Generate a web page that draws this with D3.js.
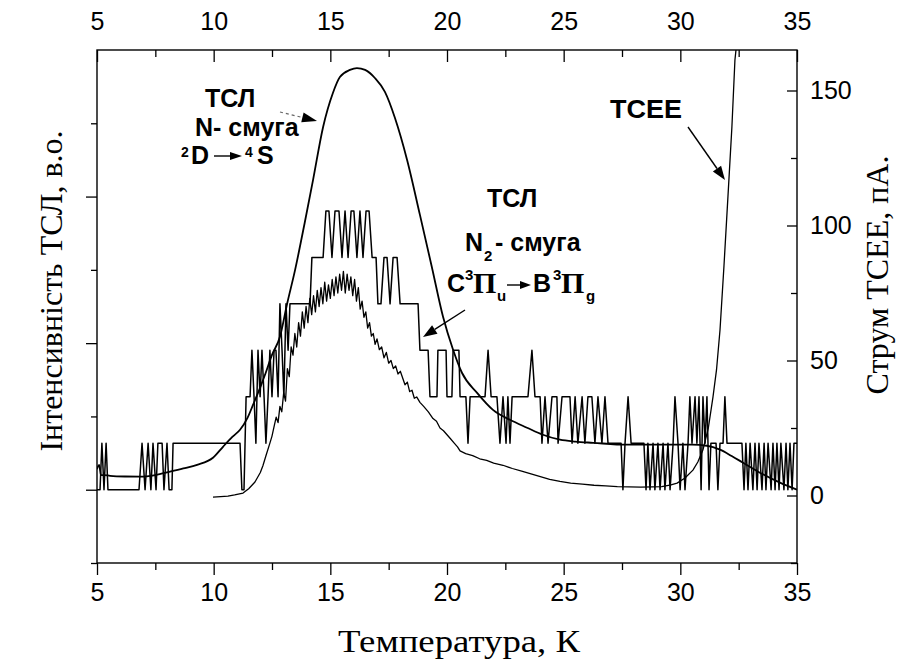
<!DOCTYPE html>
<html>
<head>
<meta charset="utf-8">
<script src="https://cdn.jsdelivr.net/npm/d3@7"></script>
<style>
  body { margin: 0; background: #fff; }
</style>
</head>
<body>
<div id="chart"></div>
<script>
// axis ticks
const xTicks = [5, 10, 15, 20, 25, 30, 35];
const xMinor = [7.5, 12.5, 17.5, 22.5, 27.5, 32.5];
const leftMajor = [0, 1, 2];
const leftMinor = [-0.5, 0.5, 1.5, 2.5];
const rightTicks = [0, 50, 100, 150];
const rightMinor = [-25, 25, 75, 125];

// ТСЛ, N-смуга: [T (K), intensity a.u.]
const nBand = [
  [5.00,0.14],[5.09,0.17],[5.17,0.10],[5.30,0.10],[5.56,0.095],[6.20,0.09],[6.84,0.089],
  [7.50,0.10],[8.13,0.123],[8.70,0.145],[9.29,0.170],[9.97,0.218],[10.40,0.293],[10.80,0.36],
  [11.13,0.409],[11.45,0.49],[11.69,0.580],[12.00,0.70],[12.20,0.784],[12.50,0.92],[12.84,1.043],
  [13.15,1.27],[13.49,1.500],[13.90,1.82],[14.26,2.114],[14.69,2.475],[15.11,2.707],[15.41,2.816],
  [15.84,2.864],[16.14,2.877],[16.49,2.864],[16.91,2.809],[17.34,2.714],[17.77,2.536],[18.29,2.250],
  [18.84,1.875],[19.35,1.52],[19.83,1.180],[20.25,0.96],[20.64,0.798],[21.29,0.661],[21.97,0.545],
  [22.70,0.477],[23.43,0.423],[24.11,0.375],[24.84,0.341],[25.50,0.328],[26.26,0.320],[27.71,0.307],
  [29.13,0.307],[30.50,0.307],[31.14,0.300],[31.70,0.273],[32.20,0.23],[32.69,0.184],[33.41,0.116],
  [34.27,0.048],[35.00,0.0]
];

// ТСЛ, N2-смуга: counter readings [T (K), level]
const n2Band = [
  [5.00,0],[5.13,0],[5.21,1],[5.30,0],[5.39,1],[5.47,0],
  [6.80,0],[6.93,1],[7.06,0],[7.19,1],[7.31,0],[7.40,1],[7.53,0],[7.61,1],[7.79,1],[7.87,0],[8.00,1],[8.09,0],[8.21,0],[8.26,1],
  [11.13,1],[11.21,0],[11.30,0],[11.39,2],
  [11.56,2],[11.64,3],[11.73,2],[11.81,1],[11.90,3],[11.99,2],[12.07,3],[12.16,2],[12.24,1],[12.33,2],[12.41,3],[12.50,2],
  [12.59,3],[12.67,3],[12.76,2],[12.84,4],[12.93,3],[13.01,2],[13.10,4],[13.19,3],[13.27,4],
  [13.40,4],[14.13,4],[14.21,5],[14.69,5],[14.81,6],[14.94,6],[15.07,5],[15.20,6],[15.37,6],[15.50,5],[15.63,6],[15.76,5],
  [15.89,6],[16.01,6],[16.14,5],[16.27,6],[16.40,5],[16.53,6],[16.66,6],[16.79,5],[16.96,5],[17.04,4],[17.17,4],[17.30,5],
  [17.43,5],[17.56,4],[17.69,5],[17.86,5],[17.99,4],
  [18.76,4],[18.84,3],[19.19,3],[19.27,2],[19.57,2],[19.61,3],[19.96,3],[20.00,2],[20.21,2],[20.26,3],[20.51,3],[20.56,2],
  [20.81,2],[20.90,1],[20.99,2],[21.63,2],[21.76,3],[21.89,2],[22.14,2],[22.27,1],[22.40,2],[22.53,1],[22.61,2],[22.70,1],[22.79,2],
  [23.47,2],[23.64,3],[23.77,2],[23.99,2],[24.07,1],[24.20,2],[24.33,1],[24.50,2],[24.71,2],[24.76,1],[24.93,2],[25.27,2],
  [25.36,1],[25.49,2],[25.61,1],[25.79,2],[25.91,1],[26.04,2],[26.21,2],[26.34,1],[26.47,2],[26.64,1],[26.77,2],[26.90,1],
  [27.46,1],[27.54,0],[27.63,1],[27.76,2],[27.89,1],
  [28.44,1],[28.53,0],[28.61,1],[28.70,0],[28.83,1],[28.91,0],[29.04,1],[29.13,0],[29.26,1],[29.34,0],[29.47,1],[29.56,0],
  [29.69,1],[29.77,2],[29.90,1],[29.99,0],[30.11,1],[30.20,0],[30.33,1],[30.41,2],[30.50,1],[30.63,2],[30.71,1],[30.80,2],
  [30.89,0],[30.97,2],[31.06,1],[31.14,2],[31.23,0],[31.31,1],
  [31.53,1],[31.61,0],[31.70,1],[31.83,1],[31.91,2],[32.00,1],
  [32.64,1],[32.73,0],[32.81,1],[32.90,0],[32.99,1],[33.11,0],[33.20,1],[33.29,0],[33.37,1],[33.50,0],[33.59,1],[33.67,0],
  [33.76,1],[33.89,0],[33.97,1],[34.06,0],[34.14,1],[34.23,0],[34.31,1],[34.44,0],[34.53,1],[34.61,0],[34.70,1],[34.79,0],
  [34.87,1],[35.00,1]
];
const n2LevelStep = 0.317; // intensity per counter level

// ТСЕЕ current: [T (K), pA]
const tsee = [
  [9.97,-0.6],[10.30,-0.4],[10.61,-0.2],[10.90,0.2],[11.26,0.9],[11.50,2.5],[11.77,5.0],[12.00,8.5],[12.11,11.0],
  [12.25,15.0],[12.41,19.4],[12.50,22.0],
  [12.60,26],[12.68,29],[12.76,27],[12.84,33],[12.92,31],[13.00,38],[13.08,35],[13.16,47],[13.24,44],[13.32,55],
  [13.40,52],[13.48,60],[13.56,55],[13.64,64],[13.72,59],[13.80,68],[13.88,62],[13.96,70],[14.04,64],[14.12,73],
  [14.20,67],[14.28,74],[14.36,68],[14.44,76],[14.52,70],[14.60,77],[14.68,71],[14.76,79],[14.84,72],[14.92,78],
  [15.00,73],[15.08,80],[15.16,74],[15.24,81],[15.32,75],[15.40,82],[15.48,76],[15.56,83],[15.64,75],[15.72,82],
  [15.80,76],[15.88,81],[15.96,74],[16.04,80],[16.12,72],[16.20,77],[16.28,69],[16.36,72],[16.44,66],[16.52,68],
  [16.60,62],[16.68,64],[16.76,59],[16.84,60],[16.92,56],[17.00,58],[17.10,54],[17.20,55],[17.30,51],[17.40,53],
  [17.50,49],[17.60,50],[17.70,47],[17.80,48],[17.90,45],[18.00,46],
  [18.2,41],[18.3,42],[18.4,38.5],[18.5,39],[18.6,36],[18.7,36.5],[18.84,34.5],[19.0,33],[19.1,32],[19.2,31],
  [19.4,28.5],[19.55,27.5],[19.7,25],[19.85,24],[20.0,22.5],[20.15,21],[20.3,19.5],[20.45,18],[20.56,16.5],
  [20.8,15.5],[21.1,14.8],[21.4,13.6],[21.7,13.0],[22.0,12.0],[22.4,11.2],[22.8,10.0],[23.2,9.0],[23.6,8.0],
  [24.0,7.0],[24.4,6.0],[24.84,5.2],[25.3,4.6],[25.8,4.2],[26.3,3.8],[26.8,3.6],[27.3,3.3],[27.8,3.2],[28.3,3.1],
  [28.8,3.2],[29.2,3.3],[29.6,3.9],[29.86,4.6],[30.2,6.5],[30.54,9.4],[30.75,12.4],[30.97,16.9],[31.2,25],
  [31.4,36.5],[31.55,46.5],[31.7,61.3],[31.87,85],[32.04,110.6],[32.21,136.5],[32.34,161.3],[32.47,172]
];

const svgWidth = 905, svgHeight = 666;
const margin = {top: 50, right: 108, bottom: 103, left: 97};
const width = svgWidth - margin.left - margin.right;
const height = svgHeight - margin.top - margin.bottom;

const svg = d3.select('#chart')
  .append('svg')
  .attr('width', svgWidth)
  .attr('height', svgHeight);

const g = svg.append('g')
  .attr('transform', `translate(${margin.left},${margin.top})`);

const x = d3.scaleLinear().domain([5, 35]).range([0, width]);
const yL = d3.scaleLinear().domain([-0.5, 3]).range([height, 0]);
const yR = d3.scaleLinear().domain([-25, 165]).range([height, 0]);

const tickFont = 'Liberation Sans, Arial, sans-serif';

function styleAxis(sel) {
  sel.select('.domain').remove();
  sel.attr('font-size', 25).attr('font-family', tickFont);
  sel.selectAll('line').attr('stroke', '#000').attr('stroke-width', 1.3);
  sel.selectAll('text').attr('fill', '#000');
}

// bottom
g.append('g').attr('transform', `translate(0,${height})`)
  .call(d3.axisBottom(x).tickValues(xTicks).tickSize(12).tickPadding(8)).call(styleAxis);
g.append('g').attr('transform', `translate(0,${height})`)
  .call(d3.axisBottom(x).tickValues(xMinor).tickSize(7).tickFormat('')).call(styleAxis);
// top
g.append('g')
  .call(d3.axisTop(x).tickValues(xTicks).tickSizeInner(-12).tickSizeOuter(0).tickPadding(20)).call(styleAxis);
g.append('g')
  .call(d3.axisTop(x).tickValues(xMinor).tickSizeInner(-7).tickSizeOuter(0).tickFormat('')).call(styleAxis);
// left
g.append('g')
  .call(d3.axisLeft(yL).tickValues(leftMajor).tickSize(11).tickFormat('')).call(styleAxis);
g.append('g')
  .call(d3.axisLeft(yL).tickValues(leftMinor).tickSize(6).tickFormat('')).call(styleAxis);
// right
g.append('g').attr('transform', `translate(${width},0)`)
  .call(d3.axisRight(yR).tickValues(rightTicks).tickSizeInner(-10).tickSizeOuter(0).tickPadding(13)).call(styleAxis);
g.append('g').attr('transform', `translate(${width},0)`)
  .call(d3.axisRight(yR).tickValues(rightMinor).tickSizeInner(-6).tickSizeOuter(0).tickFormat('')).call(styleAxis);

// frame
g.append('rect')
  .attr('width', width).attr('height', height)
  .attr('fill', 'none').attr('stroke', '#000').attr('stroke-width', 1.4);

g.append('clipPath').attr('id', 'plot-clip')
  .append('rect').attr('width', width).attr('height', height);

const curves = g.append('g').attr('clip-path', 'url(#plot-clip)')
  .attr('fill', 'none').attr('stroke', '#000').attr('stroke-linejoin', 'round');

const lineN = d3.line().x(d => x(d[0])).y(d => yL(d[1])).curve(d3.curveMonotoneX);
const lineStep = d3.line().x(d => x(d[0])).y(d => yL(d[1] * n2LevelStep));
const lineT = d3.line().x(d => x(d[0])).y(d => yR(d[1]));

curves.append('path').datum(n2Band).attr('d', lineStep).attr('stroke-width', 1.5);
curves.append('path').datum(tsee).attr('d', lineT).attr('stroke-width', 1.3);
curves.append('path').datum(nBand).attr('d', lineN).attr('stroke-width', 1.8);

// axis titles
const titleFont = 'Liberation Serif, Times New Roman, serif';
svg.append('text')
  .attr('x', 459).attr('y', 652)
  .attr('text-anchor', 'middle')
  .attr('font-family', titleFont).attr('font-size', 32)
  .attr('textLength', 242).attr('lengthAdjust', 'spacingAndGlyphs')
  .text('Температура, К');
svg.append('text')
  .attr('transform', 'translate(62,291) rotate(-90)')
  .attr('text-anchor', 'middle')
  .attr('font-family', titleFont).attr('font-size', 32)
  .text('Інтенсивність ТСЛ, в.о.');
svg.append('text')
  .attr('transform', 'translate(888,275) rotate(-90)')
  .attr('text-anchor', 'middle')
  .attr('font-family', titleFont).attr('font-size', 32)
  .text('Струм ТСЕЕ, пА.');

// annotations
const ann = svg.append('g')
  .attr('font-family', tickFont).attr('font-weight', 'bold').attr('font-size', 25);

function label(tx, ty, str, len, size, fam) {
  const t = ann.append('text').attr('x', tx).attr('y', ty).text(str);
  if (len) t.attr('textLength', len).attr('lengthAdjust', 'spacingAndGlyphs');
  if (size) t.attr('font-size', size);
  if (fam) t.attr('font-family', fam);
  return t;
}

function arrow(x1, y1, x2, y2, headLen, headHalf, dashed) {
  const a = Math.atan2(y2 - y1, x2 - x1);
  const bx = x2 - headLen * Math.cos(a), by = y2 - headLen * Math.sin(a);
  const line = ann.append('line')
    .attr('x1', x1).attr('y1', y1).attr('x2', bx).attr('y2', by)
    .attr('stroke', dashed ? '#666' : '#000').attr('stroke-width', dashed ? 1.2 : 1.4);
  if (dashed) line.attr('stroke-dasharray', '3,3');
  const px = -Math.sin(a) * headHalf, py = Math.cos(a) * headHalf;
  ann.append('polygon')
    .attr('points', `${x2},${y2} ${bx + px},${by + py} ${bx - px},${by - py}`)
    .attr('fill', '#000');
}

const piFont = 'Liberation Serif, Times New Roman, serif';

// N-band
label(205, 107, 'ТСЛ');
label(195, 136, 'N- смуга');
label(181, 157, '2', null, 14);
label(191, 164, 'D');
arrow(214, 156, 242, 156, 12, 4);
label(245, 157, '4', null, 14);
label(257, 164, 'S');
arrow(280, 112, 317, 121, 15, 5, true);

// N2-band
label(487, 207, 'ТСЛ');
label(465, 251, 'N');
label(484, 261, '2', null, 15);
label(495, 251, '- смуга');
label(447, 292, 'C');
label(465, 280, '3', null, 15);
label(473, 293, 'Π', null, 30, piFont);
label(497, 301, 'u', null, 15);
arrow(507, 285, 531, 285, 11, 4);
label(533, 292, 'B');
label(553, 280, '3', null, 15);
label(561, 293, 'Π', null, 30, piFont);
label(586, 301, 'g', null, 15);
arrow(465, 310, 423, 337, 14, 5);

// TSEE
label(610, 118, 'ТСЕЕ', 72);
arrow(688, 127, 725, 180, 14, 5);
</script>
</body>
</html>
